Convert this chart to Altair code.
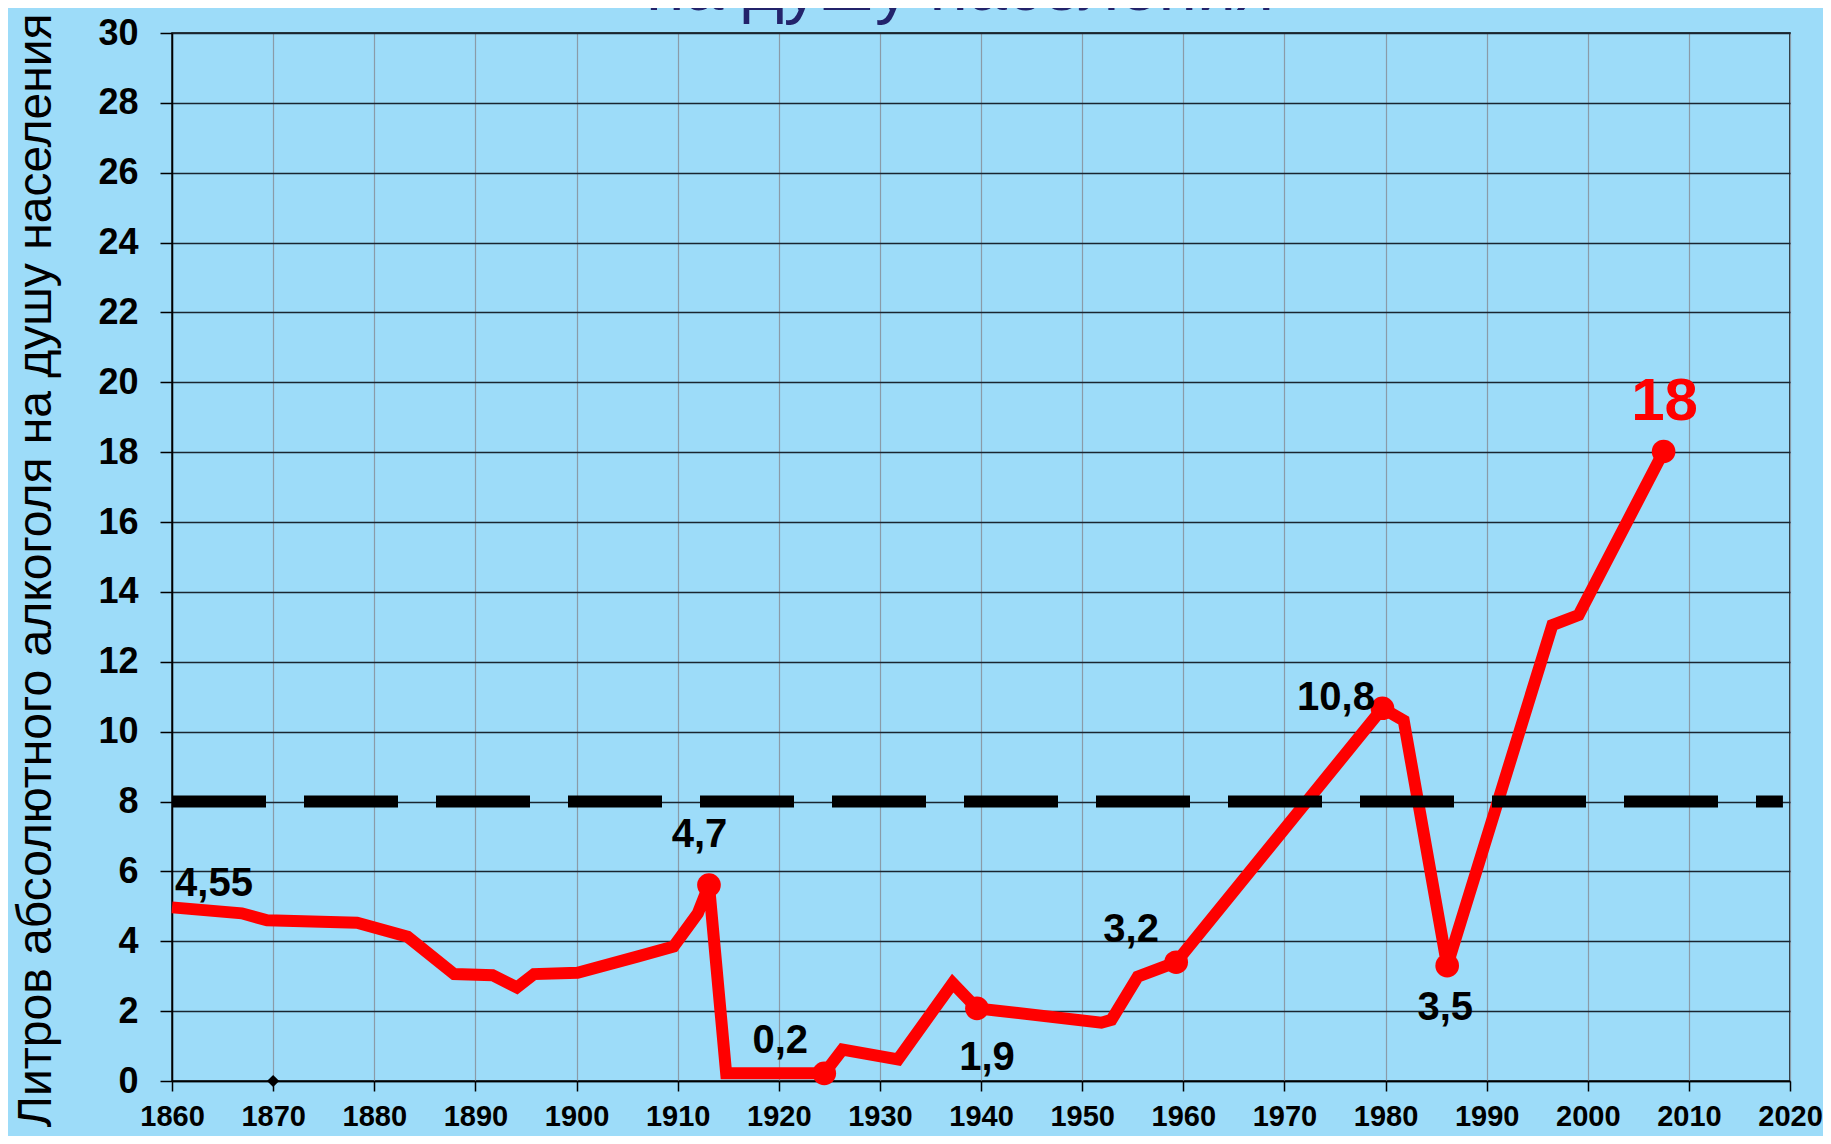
import altair as alt
import pandas as pd

# ---- data ----
years = [1860, 1866.9, 1869.4, 1878.3, 1883.3, 1887.9, 1891.7, 1894.1, 1895.8, 1900.1,
         1906.0, 1909.6, 1912.0, 1913.1, 1914.8, 1924.5, 1926.3, 1931.8, 1937.2, 1939.6,
         1951.9, 1952.9, 1955.5, 1959.3, 1979.7, 1981.8, 1986.1, 1996.5, 1999.1, 2007.5]
values = [4.97, 4.80, 4.60, 4.53, 4.13, 3.06, 3.03, 2.68, 3.06, 3.10,
          3.56, 3.85, 4.80, 5.61, 0.22, 0.22, 0.90, 0.62, 2.80, 2.08,
          1.67, 1.75, 2.99, 3.40, 10.67, 10.32, 3.30, 13.05, 13.34, 18.02]

marker_years = [1913.1, 1924.5, 1939.6, 1959.3, 1979.7, 1986.1, 2007.5]
marker_values = [5.61, 0.22, 2.08, 3.40, 10.67, 3.30, 18.02]

label_years = [1860, 1913.1, 1924.5, 1939.6, 1959.3, 1986.1, 1979.7, 2007.5]
label_values = [4.97, 5.61, 0.22, 2.08, 3.40, 3.30, 10.67, 18.02]
label_texts = ["4,55", "4,7", "0,2", "1,9", "3,2", "3,5", "10,8", "18"]

norm_years = [1860, 2019.3]
norm_values = [8, 8]

stray_years = [1870]
stray_values = [0]

x_ticks = list(range(1860, 2021, 10))
y_ticks = list(range(0, 31, 2))

title_text = "на душу населения"
y_title = "Литров абсолютного алкоголя на душу населения"

# ---- styling (not data) ----
FONT = "Liberation Sans"
BG = "#9DDCF9"
label_offsets = [(42, -11), (-9.5, -38), (-44, -20), (10, 62), (-45, -20), (-2, 54), (-46.5, 2), (1, -32)]
label_colors = ["black"] * 7 + ["#FF0000"]
label_sizes = [40] * 7 + [60]

line_df = pd.DataFrame({"year": years, "value": values})
marker_df = pd.DataFrame({"year": marker_years, "value": marker_values})
norm_df = pd.DataFrame({"year": norm_years, "value": norm_values})
stray_df = pd.DataFrame({"year": stray_years, "value": stray_values})

xscale = alt.Scale(domain=[1860, 2020], nice=False, zero=False)
yscale = alt.Scale(domain=[0, 30], nice=False)

x_enc = alt.X("year:Q", scale=xscale,
              axis=alt.Axis(values=x_ticks, format="d", title=None,
                            labelFont=FONT, labelFontSize=29, labelFontWeight="bold",
                            labelColor="black", labelPadding=11, tickSize=10,
                            tickColor="black", tickWidth=1.5, domainColor="black",
                            domainWidth=1.5, grid=True, gridColor="#8A9BA8",
                            gridWidth=1.2, gridOpacity=1, labelFlush=False))
y_enc = alt.Y("value:Q", scale=yscale,
              axis=alt.Axis(values=y_ticks, title=y_title,
                            labelFont=FONT, labelFontSize=36, labelFontWeight="bold",
                            labelColor="black", labelPadding=22, tickSize=12,
                            tickColor="black", tickWidth=1.5, domainColor="black",
                            domainWidth=1.5, grid=True, gridColor="#1A2530",
                            gridWidth=1.6, gridOpacity=1,
                            titleFont=FONT, titleFontSize=48, titleFontWeight="normal",
                            titleColor="black", titleX=-122, titleY=537,
                            titleAlign="center", titleBaseline="alphabetic",
                            titleAngle=270))

base = alt.Chart(line_df)

line = base.mark_line(color="#FF0000", strokeWidth=12).encode(x=x_enc, y=y_enc)

norm = alt.Chart(norm_df).mark_line(color="black", strokeWidth=12,
                                    strokeDash=[94, 38]).encode(
    x=alt.X("year:Q", scale=xscale), y=alt.Y("value:Q", scale=yscale))

markers = alt.Chart(marker_df).mark_circle(color="#FF0000", size=560, opacity=1).encode(
    x=alt.X("year:Q", scale=xscale), y=alt.Y("value:Q", scale=yscale))

stray = alt.Chart(stray_df).mark_point(shape="diamond", filled=True, color="black",
                                       size=150, opacity=1).encode(
    x=alt.X("year:Q", scale=xscale), y=alt.Y("value:Q", scale=yscale))

labels = []
for yr, val, txt, (dx, dy), col, sz in zip(label_years, label_values, label_texts,
                                           label_offsets, label_colors, label_sizes):
    d = pd.DataFrame({"year": [yr], "value": [val], "t": [txt]})
    labels.append(
        alt.Chart(d).mark_text(font=FONT, fontSize=sz, fontWeight="bold", color=col,
                               align="center", baseline="alphabetic", dx=dx, dy=dy).encode(
            x=alt.X("year:Q", scale=xscale), y=alt.Y("value:Q", scale=yscale),
            text="t:N"))

title_df = pd.DataFrame({"t": [title_text]})
title = alt.Chart(title_df).mark_text(font=FONT, fontSize=70, color="#23236B",
                                      align="center", baseline="alphabetic").encode(
    x=alt.value(788), y=alt.value(-23), text="t:N")

chart = alt.layer(line, norm, markers, stray, *labels, title).properties(
    width=1618, height=1048,
    padding={"left": 164, "top": 25, "right": 33, "bottom": 55},
    autosize=alt.AutoSizeParams(type="none"),
    background=BG,
).configure_view(stroke="black", strokeWidth=1.5)

chart.save("out.html", embed_options={"renderer": "svg", "actions": False})
